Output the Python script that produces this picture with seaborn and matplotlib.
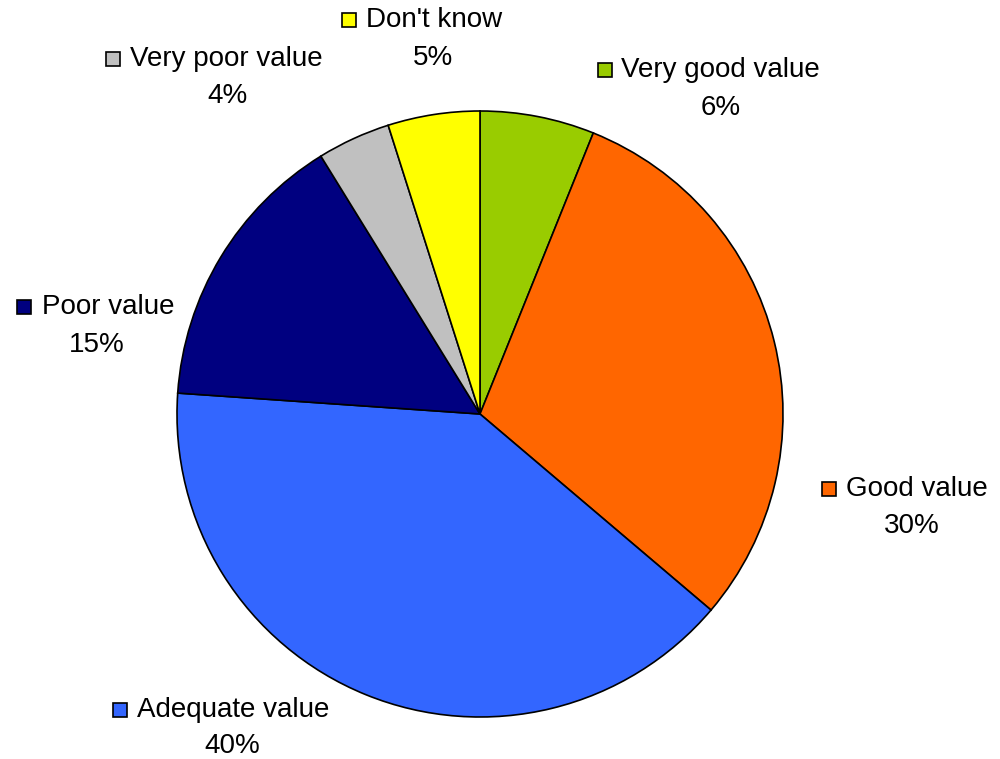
import numpy as np
import matplotlib
matplotlib.use("Agg")
import matplotlib.pyplot as plt
import seaborn as sns

# data, clockwise from 12 o'clock
categories = ["Very good value", "Good value", "Adequate value",
              "Poor value", "Very poor value", "Don't know"]
shares = [6.1, 30.1, 39.9, 15.1, 3.9, 4.9]
pct_labels = ["6%", "30%", "40%", "15%", "4%", "5%"]
colors = ["#99CC00", "#FF6600", "#3366FF", "#000080", "#C0C0C0", "#FFFF00"]

sns.set_style("white")
plt.rcParams["font.family"] = ["Liberation Sans", "DejaVu Sans"]
plt.rcParams["text.color"] = "black"

fig = plt.figure(figsize=(10, 7.59), dpi=100)
ax = fig.add_axes([0, 0, 1, 1])

R = 303.0   # pie radius in pixels
cx, cy = 480.0, 414.0

def to_data(px, py):
    return (px - cx) / R, (cy - py) / R

ax.pie(shares, colors=colors, startangle=90, counterclock=False,
       radius=1.0, wedgeprops=dict(edgecolor="black", linewidth=1.2))

# label anchors in pixels: square centre, name left edge, pct centre
label_pos = {
    "Very good value": ((605, 70), 621, (721, 108)),
    "Good value": ((829, 489), 846, (912, 526)),
    "Adequate value": ((120, 710), 137, (232, 746)),
    "Poor value": ((24, 307), 42, (97, 345)),
    "Very poor value": ((113, 59), 130, (228, 96)),
    "Don't know": ((349, 20), 366, (433, 58)),
}

for name, pct, col in zip(categories, pct_labels, colors):
    (sx, sy), nx, (px, py) = label_pos[name]
    x, y = to_data(sx, sy)
    ax.plot([x], [y], marker="s", markersize=10.5, color=col,
            markeredgecolor="black", markeredgewidth=1.2, clip_on=False)
    x, y = to_data(nx, sy)
    ax.text(x, y, name, ha="left", va="center", fontsize=20, color="black")
    x, y = to_data(px, py)
    ax.text(x, y, pct, ha="center", va="center", fontsize=20, color="black")

ax.set_xlim(-cx / R, (1000 - cx) / R)
ax.set_ylim(-(759 - cy) / R, cy / R)
ax.set_aspect("equal")
ax.axis("off")

fig.savefig("out.png", dpi=100, facecolor="white")
